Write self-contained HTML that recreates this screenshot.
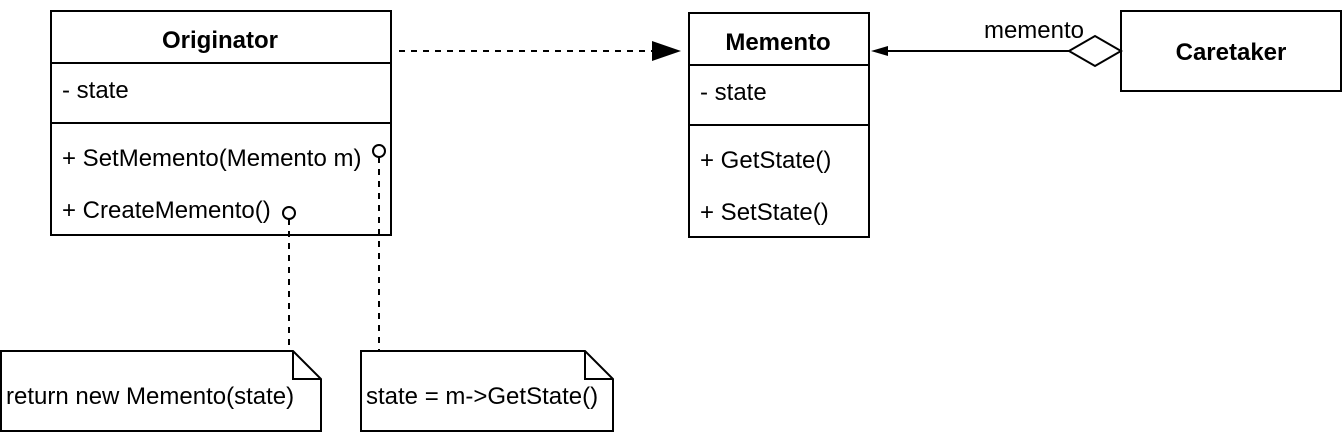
<!DOCTYPE html>
<html><head><style>
html,body{margin:0;padding:0;background:#fff;}
svg{display:block;}
text{font-family:"Liberation Sans",Arial,sans-serif;font-size:24px;fill:#000;}
.b{font-weight:bold;}
</style></head><body>
<svg width="1342" height="432" viewBox="0 0 1342 432" xmlns="http://www.w3.org/2000/svg">
<g fill="#fff" stroke="#000" stroke-width="2">
<rect x="51" y="11" width="340" height="224"/>
<line x1="51" y1="63" x2="391" y2="63"/>
<line x1="51" y1="123" x2="391" y2="123"/>
<rect x="689" y="13" width="180" height="224"/>
<line x1="689" y1="65" x2="869" y2="65"/>
<line x1="689" y1="125" x2="869" y2="125"/>
<rect x="1121" y="11" width="220" height="80"/>
<path d="M1 351 H293 L321 379 V431 H1 Z"/>
<path d="M293 351 V379 H321" fill="none"/>
<path d="M361 351 H585 L613 379 V431 H361 Z"/>
<path d="M585 351 V379 H613" fill="none"/>
</g>
<text x="220" y="48" text-anchor="middle" class="b">Originator</text>
<text x="62" y="98">- state</text>
<text x="62" y="166">+ SetMemento(Memento m)</text>
<text x="62" y="218">+ CreateMemento()</text>
<text x="778" y="50" text-anchor="middle" class="b">Memento</text>
<text x="700" y="100">- state</text>
<text x="700" y="168">+ GetState()</text>
<text x="700" y="220">+ SetState()</text>
<text x="1231" y="60" text-anchor="middle" class="b">Caretaker</text>
<text x="1034" y="38" text-anchor="middle">memento</text>
<text x="6" y="404">return new Memento(state)</text>
<text x="366" y="404">state = m-&gt;GetState()</text>
<g stroke="#000" stroke-width="2" fill="none">
<line x1="399" y1="51" x2="655" y2="51" stroke-dasharray="6,6"/>
<line x1="886" y1="51" x2="1069" y2="51"/>
<path d="M1069 51 L1095 36 L1121 51 L1095 66 Z" fill="#fff"/>
<line x1="289" y1="219" x2="289" y2="351" stroke-dasharray="6,6"/>
<line x1="379" y1="157" x2="379" y2="351" stroke-dasharray="6,6"/>
<circle cx="289" cy="213" r="6" fill="#fff"/>
<circle cx="379" cy="151" r="6" fill="#fff"/>
</g>
<path d="M652 41 L681 51 L652 61 Z" fill="#000"/>
<path d="M871 51 L888 46 L888 56 Z" fill="#000"/>
</svg>
</body></html>
